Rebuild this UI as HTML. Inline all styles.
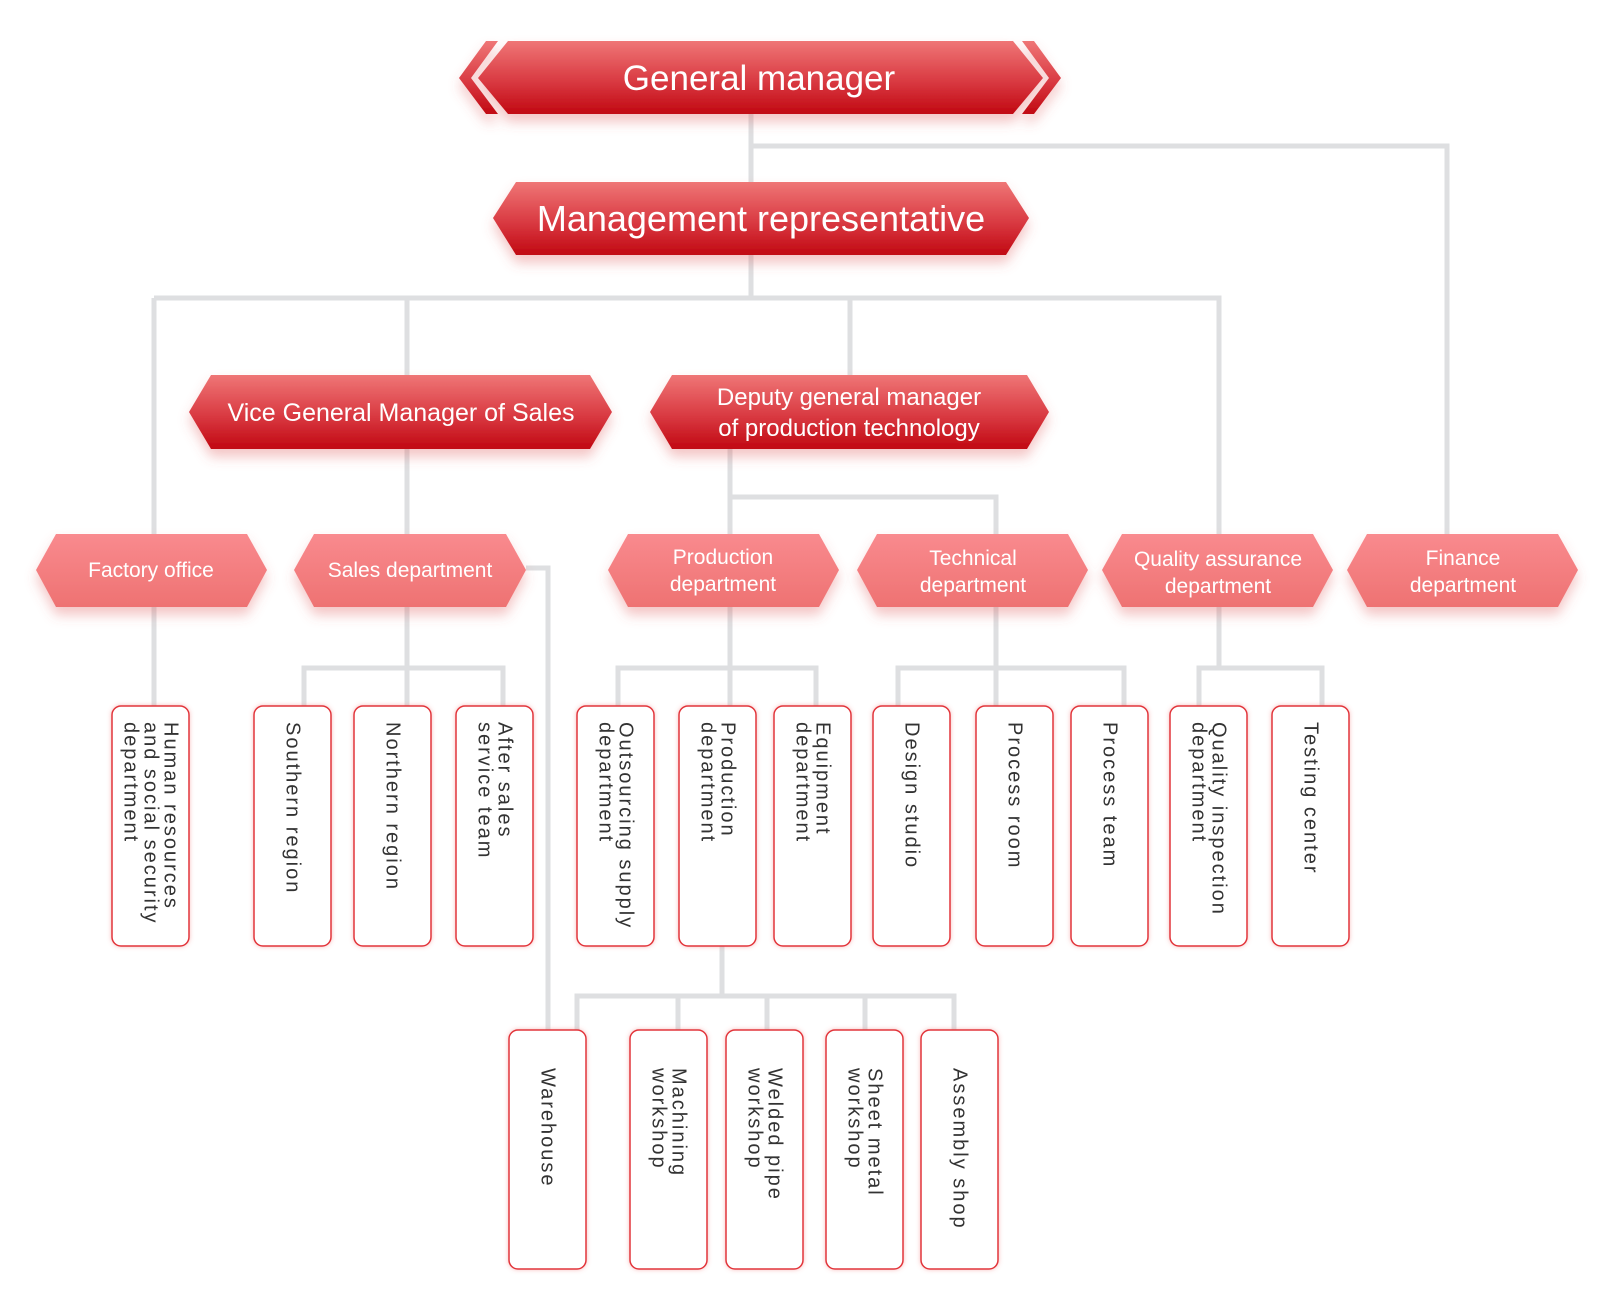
<!DOCTYPE html>
<html><head><meta charset="utf-8"><style>
html,body{margin:0;padding:0;background:#fff;}
svg{display:block;font-family:"Liberation Sans",Arial,sans-serif;}
</style></head><body>
<svg width="1600" height="1305" viewBox="0 0 1600 1305" xmlns="http://www.w3.org/2000/svg">
<defs>
<linearGradient id="red" x1="0" y1="0" x2="0" y2="1">
<stop offset="0" stop-color="#ef7676"/><stop offset="0.55" stop-color="#d93a42"/><stop offset="1" stop-color="#c10812"/>
</linearGradient>
<linearGradient id="pink" x1="0" y1="0" x2="0" y2="1">
<stop offset="0" stop-color="#f98a8e"/><stop offset="1" stop-color="#ee7272"/>
</linearGradient>
<filter id="sh" x="-10%" y="-20%" width="120%" height="160%">
<feDropShadow dx="0" dy="8" stdDeviation="6" flood-color="#e05a5a" flood-opacity="0.35"/>
</filter>
<filter id="bs" x="-20%" y="-10%" width="140%" height="120%">
<feDropShadow dx="0" dy="0" stdDeviation="2.5" flood-color="#f07070" flood-opacity="0.45"/>
</filter>
</defs>

<g stroke="#dedfe1" stroke-width="5" fill="none">
<path d="M751 114 V298"/>
<path d="M751 146 H1447 V534"/>
<path d="M154 298 H1219 V534"/>
<path d="M154 298 V534"/>
<path d="M407 298 V375"/>
<path d="M850 298 V375"/>
<path d="M407 449 V534"/>
<path d="M730 449 V534"/>
<path d="M730 497 H996 V534"/>
<path d="M154 607 V706"/>
<path d="M407 607 V706"/>
<path d="M304 706 V668 H503 V706"/>
<path d="M526 568 H548 V1030"/>
<path d="M730 607 V706"/>
<path d="M618 706 V668 H816 V706"/>
<path d="M996 607 V706"/>
<path d="M898 706 V668 H1124 V706"/>
<path d="M1219 607 V668"/>
<path d="M1199 706 V668 H1322 V706"/>
<path d="M722 946 V996"/>
<path d="M577 1030 V996 H954 V1030"/>
<path d="M678 996 V1030"/>
<path d="M767 996 V1030"/>
<path d="M865 996 V1030"/>
</g>

<g filter="url(#sh)">
<polygon points="459,78 486,41 498,41 471,78 498,114 486,114" fill="url(#red)"/>
<polygon points="1061,78 1034,41 1022,41 1049,78 1022,114 1034,114" fill="url(#red)"/>
<polygon points="478,78 508,41 1013,41 1043,78 1013,114 508,114" fill="url(#red)"/>
</g>
<text x="759" y="90" font-size="35" fill="#fff" text-anchor="middle">General manager</text>

<polygon filter="url(#sh)" points="493,218 516,182 1006,182 1029,218 1006,255 516,255" fill="url(#red)"/>
<text x="761" y="231" font-size="36" fill="#fff" text-anchor="middle">Management representative</text>

<polygon filter="url(#sh)" points="189,412 211,375 590,375 612,412 590,449 211,449" fill="url(#red)"/>
<text x="401" y="421" font-size="25" fill="#fff" text-anchor="middle">Vice General Manager of Sales</text>
<polygon filter="url(#sh)" points="650,412 672,375 1027,375 1049,412 1027,449 672,449" fill="url(#red)"/>
<text x="849" y="405" font-size="24" fill="#fff" text-anchor="middle">Deputy general manager</text>
<text x="849" y="436" font-size="24" fill="#fff" text-anchor="middle">of production technology</text>

<g filter="url(#sh)" fill="url(#pink)">
<polygon points="36,570 56,534 247,534 267,570 247,607 56,607"/>
<polygon points="294,570 314,534 506,534 526,570 506,607 314,607"/>
<polygon points="608,570 628,534 819,534 839,570 819,607 628,607"/>
<polygon points="857,570 877,534 1068,534 1088,570 1068,607 877,607"/>
<polygon points="1102,570 1122,534 1313,534 1333,570 1313,607 1122,607"/>
<polygon points="1347,570 1367,534 1558,534 1578,570 1558,607 1367,607"/>
</g>
<g font-size="21" fill="#fff" text-anchor="middle">
<text x="151" y="577">Factory office</text>
<text x="410" y="577">Sales department</text>
<text x="723" y="564">Production</text><text x="723" y="591">department</text>
<text x="973" y="565">Technical</text><text x="973" y="592">department</text>
<text x="1218" y="566">Quality assurance</text><text x="1218" y="593">department</text>
<text x="1463" y="565">Finance</text><text x="1463" y="592">department</text>
</g>

<g fill="#fff" stroke="#e2343a" stroke-width="1.5" filter="url(#bs)">
<rect x="112" y="706" width="77" height="240" rx="9"/>
<rect x="254" y="706" width="77" height="240" rx="9"/>
<rect x="354" y="706" width="77" height="240" rx="9"/>
<rect x="456" y="706" width="77" height="240" rx="9"/>
<rect x="577" y="706" width="77" height="240" rx="9"/>
<rect x="679" y="706" width="77" height="240" rx="9"/>
<rect x="774" y="706" width="77" height="240" rx="9"/>
<rect x="873" y="706" width="77" height="240" rx="9"/>
<rect x="976" y="706" width="77" height="240" rx="9"/>
<rect x="1071" y="706" width="77" height="240" rx="9"/>
<rect x="1170" y="706" width="77" height="240" rx="9"/>
<rect x="1272" y="706" width="77" height="240" rx="9"/>
<rect x="509" y="1030" width="77" height="239" rx="9"/>
<rect x="630" y="1030" width="77" height="239" rx="9"/>
<rect x="726" y="1030" width="77" height="239" rx="9"/>
<rect x="826" y="1030" width="77" height="239" rx="9"/>
<rect x="921" y="1030" width="77" height="239" rx="9"/>
</g>

<g font-size="20" fill="#333" letter-spacing="2" dominant-baseline="central">
<g transform="translate(150.5,722) rotate(90)"><text x="0" y="-20">Human resources</text><text x="0" y="0">and social security</text><text x="0" y="20">department</text></g>
<g transform="translate(292.5,722) rotate(90)"><text x="0" y="0">Southern region</text></g>
<g transform="translate(392.5,722) rotate(90)"><text x="0" y="0">Northern region</text></g>
<g transform="translate(494.5,722) rotate(90)"><text x="0" y="-10">After sales</text><text x="0" y="10">service team</text></g>
<g transform="translate(615.5,722) rotate(90)"><text x="0" y="-10">Outsourcing supply</text><text x="0" y="10">department</text></g>
<g transform="translate(717.5,722) rotate(90)"><text x="0" y="-10">Production</text><text x="0" y="10">department</text></g>
<g transform="translate(812.5,722) rotate(90)"><text x="0" y="-10">Equipment</text><text x="0" y="10">department</text></g>
<g transform="translate(911.5,722) rotate(90)"><text x="0" y="0">Design studio</text></g>
<g transform="translate(1014.5,722) rotate(90)"><text x="0" y="0">Process room</text></g>
<g transform="translate(1109.5,722) rotate(90)"><text x="0" y="0">Process team</text></g>
<g transform="translate(1208.5,722) rotate(90)"><text x="0" y="-10">Quality inspection</text><text x="0" y="10">department</text></g>
<g transform="translate(1310.5,722) rotate(90)"><text x="0" y="0">Testing center</text></g>
<g transform="translate(547.5,1068) rotate(90)"><text x="0" y="0">Warehouse</text></g>
<g transform="translate(668.5,1068) rotate(90)"><text x="0" y="-10">Machining</text><text x="0" y="10">workshop</text></g>
<g transform="translate(764.5,1068) rotate(90)"><text x="0" y="-10">Welded pipe</text><text x="0" y="10">workshop</text></g>
<g transform="translate(864.5,1068) rotate(90)"><text x="0" y="-10">Sheet metal</text><text x="0" y="10">workshop</text></g>
<g transform="translate(959.5,1068) rotate(90)"><text x="0" y="0">Assembly shop</text></g>
</g>
</svg>
</body></html>
